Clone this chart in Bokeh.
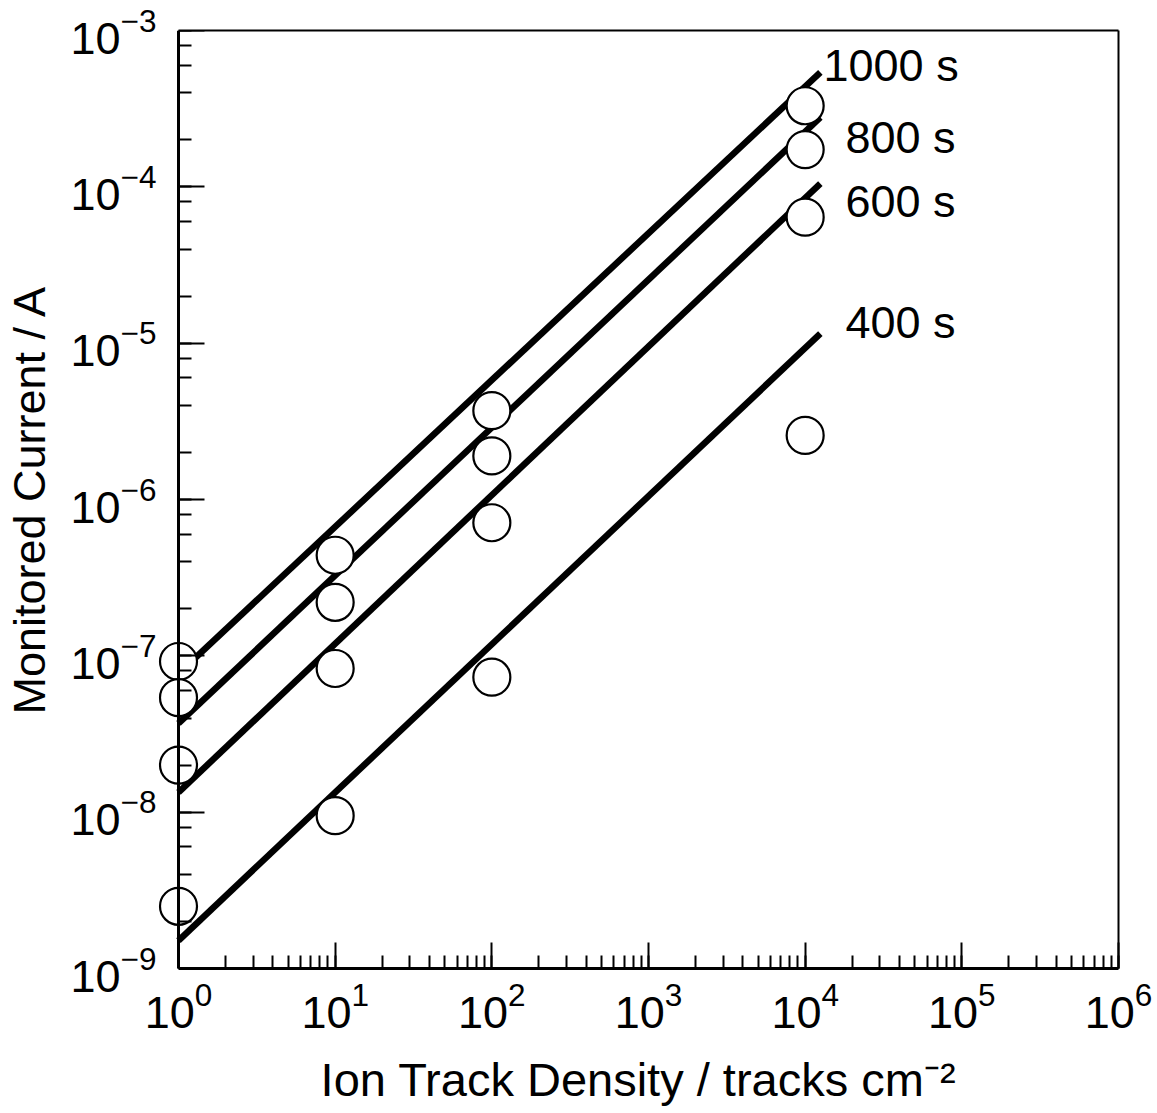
from bokeh.plotting import figure
from bokeh.models import Range1d, ColumnDataSource, LogAxis, FixedTicker
from bokeh.core.properties import value
from bokeh.embed import file_html
from bokeh.resources import INLINE

# ---- data ----
density = [1, 10, 100, 1e4]
current_1000 = [9.2e-8, 4.4e-7, 3.7e-6, 3.3e-4]
current_800 = [5.4e-8, 2.2e-7, 1.9e-6, 1.73e-4]
current_600 = [2.0e-8, 8.3e-8, 7.1e-7, 6.4e-5]
current_400 = [2.5e-9, 9.5e-9, 7.3e-8, 2.57e-6]

fit_x = [1, 1.25e4]
fit_1000 = [7.7e-8, 5.4e-4]
fit_800 = [3.7e-8, 2.78e-4]
fit_600 = [1.34e-8, 1.05e-4]
fit_400 = [1.51e-9, 1.15e-5]

series_labels = ["1000 s", "800 s", "600 s", "400 s"]
label_x = [1.31e4, 1.81e4, 1.81e4, 1.81e4]
label_y = [6.0e-4, 2.06e-4, 8.1e-5, 1.35e-5]

FONT = "Liberation Sans"

# layout: axes box 940 x 938 px; the frame is extended 20 px to the left so
# the markers at 10^0 are not clipped; the y axis line is pinned at x = 10^0.
X_MIN, X_MAX = 1, 1e6
Y_MIN, Y_MAX = 1e-9, 1e-3
PAD_PX = 20
DEC_PX = 940 / 6
x_start = 10 ** (-PAD_PX / DEC_PX)

p = figure(frame_width=940 + PAD_PX, frame_height=938,
           x_axis_type="log", y_axis_type="log",
           x_range=Range1d(x_start, X_MAX), y_range=Range1d(Y_MIN, Y_MAX),
           output_backend="svg", toolbar_location=None,
           min_border_left=178 - PAD_PX, min_border_top=30,
           min_border_right=35, min_border_bottom=140)

p.background_fill_color = "white"
p.border_fill_color = "white"
p.outline_line_color = None
p.xgrid.visible = False
p.ygrid.visible = False


def style_ticks(ax):
    ax.axis_line_width = 3
    ax.axis_line_color = "black"
    ax.major_tick_in = 26
    ax.major_tick_out = 0
    ax.minor_tick_in = 13
    ax.minor_tick_out = 0
    ax.major_tick_line_width = 2
    ax.minor_tick_line_width = 2
    ax.major_tick_line_color = "black"
    ax.minor_tick_line_color = "black"


def style_text(ax):
    ax.major_label_text_font = FONT
    ax.major_label_text_font_size = "45px"
    ax.major_label_text_color = "black"
    ax.axis_label_text_font = FONT
    ax.axis_label_text_font_style = "normal"
    ax.axis_label_text_color = "black"


# x axis (bottom)
xa = p.xaxis[0]
style_ticks(xa)
style_text(xa)
xa.bounds = (X_MIN, X_MAX)
xa.axis_label = "Ion Track Density / tracks cm\u207b\u00b2"
xa.axis_label_text_font_size = "47px"
xa.major_label_standoff = 13
xa.axis_label_standoff = 22

# y axis labels (left panel, at the frame edge; line and ticks hidden)
ya = p.yaxis[0]
style_text(ya)
ya.axis_line_color = None
ya.major_tick_line_color = None
ya.minor_tick_line_color = None
ya.major_tick_in = 0
ya.major_tick_out = 0
ya.minor_tick_in = 0
ya.minor_tick_out = 0
ya.major_label_standoff = 2
ya.axis_label = "Monitored Current / A"
ya.axis_label_text_font_size = "45px"
ya.axis_label_standoff = 13

# y axis line and ticks pinned at x = 10^0
yline = LogAxis(fixed_location=X_MIN, major_label_text_font_size="0px",
                major_label_text_color=None)
style_ticks(yline)
p.add_layout(yline, "left")

# top and right frame lines
top = LogAxis(ticker=FixedTicker(ticks=[], minor_ticks=[]), bounds=(X_MIN, X_MAX),
              axis_line_width=2, axis_line_color="black",
              major_tick_line_color=None, minor_tick_line_color=None)
p.add_layout(top, "above")
right = LogAxis(ticker=FixedTicker(ticks=[], minor_ticks=[]),
                axis_line_width=2, axis_line_color="black",
                major_tick_line_color=None, minor_tick_line_color=None)
p.add_layout(right, "right")

fits = [fit_1000, fit_800, fit_600, fit_400]
currents = [current_1000, current_800, current_600, current_400]

for fy in fits:
    p.line(fit_x, fy, line_color="black", line_width=6.5)

for cy in currents:
    p.scatter(density, cy, marker="circle", size=37, fill_color="white",
              line_color="black", line_width=2.2)

src = ColumnDataSource(dict(x=label_x, y=label_y, t=series_labels))
p.text(x="x", y="y", text="t", source=src, text_font=value(FONT),
       text_font_size="45px", text_align="left", text_baseline="middle",
       text_color="black")

open("out.html", "w").write(file_html(p, INLINE))
